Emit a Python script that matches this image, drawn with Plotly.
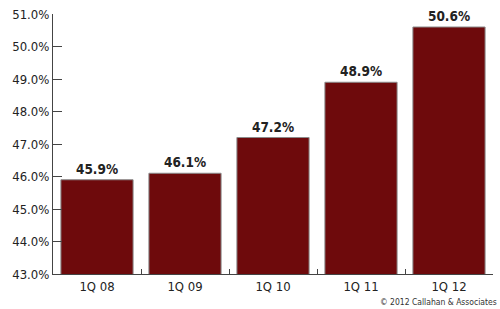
import plotly.graph_objects as go

categories = ["1Q 08", "1Q 09", "1Q 10", "1Q 11", "1Q 12"]
values = [45.9, 46.1, 47.2, 48.9, 50.6]
labels = ["45.9%", "46.1%", "47.2%", "48.9%", "50.6%"]
ytick_vals = [43, 44, 45, 46, 47, 48, 49, 50, 51]
ytick_text = ["43.0%", "44.0%", "45.0%", "46.0%", "47.0%", "48.0%", "49.0%", "50.0%", "51.0%"]

FONT = "Liberation Sans Narrow, DejaVu Sans Condensed, Arial Narrow, sans-serif"

fig = go.Figure(
    go.Bar(
        x=categories,
        y=values,
        base=0,
        text=labels,
        textposition="outside",
        cliponaxis=False,
        textfont=dict(family=FONT, size=13.5, color="#222222", weight="bold"),
        marker=dict(color="#6E0A0C", line=dict(color="#8a8a8a", width=1)),
        hoverinfo="skip",
    )
)

fig.update_layout(
    width=500,
    height=309,
    margin=dict(l=53, r=7, t=14, b=35),
    plot_bgcolor="white",
    paper_bgcolor="white",
    bargap=0.18,
    showlegend=False,
    font=dict(family=FONT, size=13, color="#222222"),
    xaxis=dict(
        type="category",
        showline=True,
        linecolor="#444444",
        linewidth=1,
        ticks="inside",
        tickson="boundaries",
        ticklen=5,
        tickcolor="#444444",
        showgrid=False,
        tickfont=dict(family=FONT, size=13, color="#222222"),
    ),
    yaxis=dict(
        range=[43, 51],
        tickmode="array",
        tickvals=ytick_vals,
        ticktext=ytick_text,
        showline=True,
        linecolor="#444444",
        linewidth=1,
        ticks="inside",
        ticklen=9,
        tickcolor="#444444",
        showgrid=False,
        zeroline=False,
        tickfont=dict(family=FONT, size=13, color="#222222"),
    ),
    annotations=[
        dict(
            text="© 2012 Callahan & Associates",
            xref="paper",
            yref="paper",
            x=1.0,
            y=0,
            xshift=6,
            yshift=-28,
            xanchor="right",
            yanchor="middle",
            showarrow=False,
            font=dict(family=FONT, size=8.5, color="#333333"),
        )
    ],
)

fig.write_html("out.html")
